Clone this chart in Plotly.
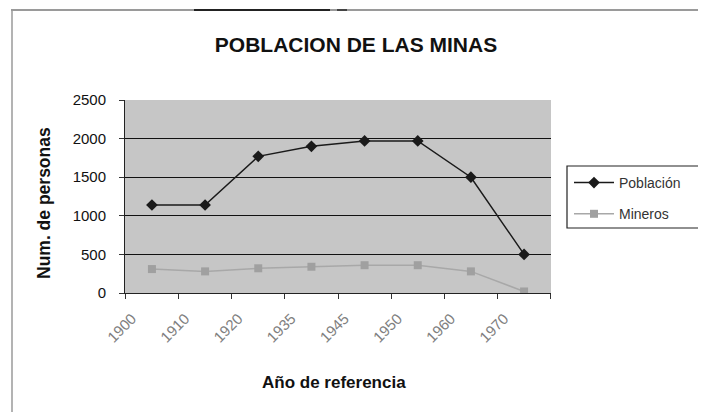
import plotly.graph_objects as go

years = ["1900", "1910", "1920", "1935", "1945", "1950", "1960", "1970"]
poblacion = [1140, 1140, 1770, 1900, 1970, 1970, 1500, 500]
mineros = [310, 280, 320, 340, 360, 360, 280, 20]
y_ticks = [0, 500, 1000, 1500, 2000, 2500]

# the page body adds an 8px offset; positions below are in screen pixels
OFF = 8
W, H = 706 - OFF, 412 - OFF
L, T = 125 - OFF, 100 - OFF
R = 706 - 551
B = 412 - 293
PW, PH = W - L - R, H - T - B


def px(x):
    return (x - OFF - L) / PW


def py(y):
    return (H - B - (y - OFF)) / PH


fig = go.Figure()
fig.add_trace(go.Scatter(
    x=years, y=poblacion, name="Población", mode="lines+markers", legendgroup="a",
    line=dict(color="#1a1a1a", width=1.5),
    marker=dict(symbol="diamond", size=9, color="#1a1a1a"),
))
fig.add_trace(go.Scatter(
    x=years, y=mineros, name="Mineros", mode="lines+markers", legendgroup="b",
    line=dict(color="#a8a8a8", width=1.5),
    marker=dict(symbol="square", size=8, color="#a0a0a0"),
))

fig.update_layout(
    width=W, height=H,
    margin=dict(l=L, r=R, t=T, b=B),
    paper_bgcolor="white", plot_bgcolor="#c6c6c6",
    font=dict(family="Liberation Sans, Arial, sans-serif", color="#111"),
    title=dict(text="<b>POBLACION DE LAS MINAS</b>", x=px(356), xref="paper", xanchor="center",
               y=1 - (45 - OFF) / H, yanchor="middle", font=dict(size=21, color="#111")),
    showlegend=True,
    legend=dict(x=px(569), xanchor="left", y=py(167), yanchor="top", bgcolor="rgba(0,0,0,0)",
                borderwidth=0, itemwidth=40, traceorder="grouped", tracegroupgap=10,
                font=dict(size=14, color="#333")),
    xaxis=dict(
        type="category", tickson="boundaries", ticks="outside", ticklen=5,
        tickcolor="#333", tickangle=-45, showgrid=False, automargin=False,
        showline=True, linecolor="#222", linewidth=1,
        ticklabelstandoff=10, ticklabelshift=-20,
        tickfont=dict(size=15, color="#808080"),
    ),
    yaxis=dict(
        range=[0, 2500], tickvals=y_ticks, ticks="outside", ticklen=5,
        tickcolor="#333", showgrid=True, gridcolor="#111", gridwidth=1.2,
        showline=True, linecolor="#222", linewidth=1, zeroline=False, automargin=False,
        ticklabelstandoff=10,
        tickfont=dict(size=15, color="#111"),
    ),
    annotations=[
        dict(text="<b>Año de referencia</b>", xref="paper", yref="paper",
             x=px(334), y=py(382), xanchor="center", yanchor="middle", showarrow=False,
             font=dict(size=17, color="#111")),
        dict(text="<b>Num. de personas</b>", xref="paper", yref="paper", textangle=-90,
             x=px(44), y=py(203), xanchor="center", yanchor="middle", showarrow=False,
             font=dict(size=17.5, color="#111")),
    ],
)

# legend frame
fig.add_shape(type="rect", xref="paper", yref="paper", x0=px(567), x1=px(700), y0=py(228), y1=py(166),
              line=dict(color="#222", width=1.2), fillcolor="white", layer="below")
# outer frame lines of the scanned chart box
fig.add_shape(type="line", xref="paper", yref="paper", x0=px(11), x1=px(706), y0=py(10), y1=py(10),
              line=dict(color="#9a9a9a", width=2))
fig.add_shape(type="line", xref="paper", yref="paper", x0=px(12), x1=px(12), y0=py(10), y1=py(412),
              line=dict(color="#9a9a9a", width=1.5))
fig.add_shape(type="line", xref="paper", yref="paper", x0=px(194), x1=px(330), y0=py(10), y1=py(10),
              line=dict(color="#222", width=2))
fig.add_shape(type="line", xref="paper", yref="paper", x0=px(337), x1=px(347), y0=py(10), y1=py(10),
              line=dict(color="#444", width=2))

fig.write_html("out.html")
